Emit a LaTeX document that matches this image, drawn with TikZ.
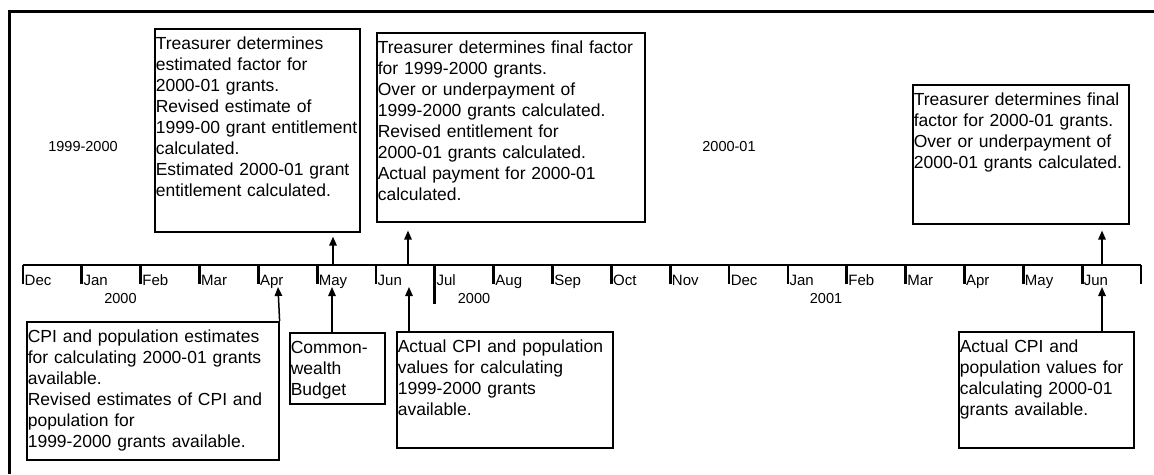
\documentclass[tikz,border=0pt]{standalone}
\usepackage{fontspec}
\setmainfont{Liberation Sans}
\usetikzlibrary{arrows.meta}

\begin{document}
\begin{tikzpicture}
[
x=1pt, y=-1pt,
evbox/.style={draw=black, line width=1.6pt, anchor=north west, align=left, inner xsep=1pt, inner ysep=7.5pt, text height=13pt, text width=#1, font=\fontsize{17.5}{21}\selectfont},
evarrow/.style={line width=1.5pt, -{Triangle[length=9pt, width=7.5pt]}},
tick/.style={line width=2.8pt},
monthlabel/.style={anchor=base west, inner sep=0pt, font=\fontsize{15}{17}\selectfont},
yearlabel/.style={anchor=base, inner sep=0pt, font=\fontsize{14.5}{17}\selectfont}
]
\useasboundingbox (0,0) rectangle (1154,474);

%Frame
\draw[line width=3pt] (1154,11) -| (9,474);

%Timeline
\draw[tick] (23,265) -- (1141,265);
\foreach \m [count=\i from 0] in {Dec,Jan,Feb,Mar,Apr,May,Jun,Jul,Aug,Sep,Oct,Nov,Dec,Jan,Feb,Mar,Apr,May,Jun}{
  \draw[tick] (23+58.84*\i,265) -- ++(0,19);
  \node[monthlabel] (m\i) at (24.5+58.84*\i,285.5) {\m};
}
\draw[tick] (1141,265) -- ++(0,19);
\draw[tick] (23+58.84*7,265) -- ++(0,39);

\node[yearlabel] (y1) at (120.5,303) {2000};
\node[yearlabel] (y2) at (474,303) {2000};
\node[yearlabel] (y3) at (826,303) {2001};
\node[yearlabel] (fy1) at (83,151) {1999-2000};
\node[yearlabel] (fy2) at (729,151.5) {2000-01};

%Boxes above
\node[evbox=203, text depth=175pt] at(154,28) (fac00) {Treasurer determines\\estimated factor for\\2000-01 grants.\\Revised estimate of\\\mbox{1999-00 grant entitlement}\\calculated.\\Estimated 2000-01 grant\\entitlement calculated.};
\node[evbox=266, text depth=161pt] at(376,32) (fin99) {Treasurer determines final factor\\for 1999-2000 grants.\\Over or underpayment of\\1999-2000 grants calculated.\\Revised entitlement for\\2000-01 grants calculated.\\Actual payment for 2000-01\\calculated.};
\node[evbox=214, text depth=111pt] at(912,84) (fin00) {Treasurer determines final\\factor for 2000-01 grants.\\Over or underpayment of\\2000-01 grants calculated.};

%Boxes below
\node[evbox=250, text depth=110pt] at(26,321) (cpiest) {CPI and population estimates\\for calculating 2000-01 grants\\available.\\Revised estimates of CPI and\\population for\\1999-2000 grants available.};
\node[evbox=93, text depth=43pt] at(289,332) (budget) {Common-\\wealth\\Budget};
\node[evbox=214, text depth=88pt] at(396,331) (act99) {Actual CPI and population\\values for calculating\\1999-2000 grants\\available.};
\node[evbox=173, text depth=88pt] at(958,331) (act00) {Actual CPI and\\population values for\\calculating 2000-01\\grants available.};

%Arrows
\coordinate (tMay) at (333,265);
\coordinate (tJun) at (408,265);
\coordinate (tJun1) at (1102,265);
\coordinate (bApr) at (278,287);
\coordinate (bMay) at (332,287);
\coordinate (bJun) at (409,287);
\coordinate (bJun1) at (1102,287);

\draw[evarrow, shorten >=4pt] (tMay) -- (tMay |- fac00.south);
\draw[evarrow, shorten >=8pt] (tJun) -- (tJun |- fin99.south);
\draw[evarrow, shorten >=6pt] (tJun1) -- (tJun1 |- fin00.south);
\draw[evarrow] (cpiest.north east) -- (bApr);
\draw[evarrow] (bMay |- budget.north) -- (bMay);
\draw[evarrow] (bJun |- act99.north) -- (bJun);
\draw[evarrow] (bJun1 |- act00.north) -- (bJun1);

\end{tikzpicture}
\end{document}
